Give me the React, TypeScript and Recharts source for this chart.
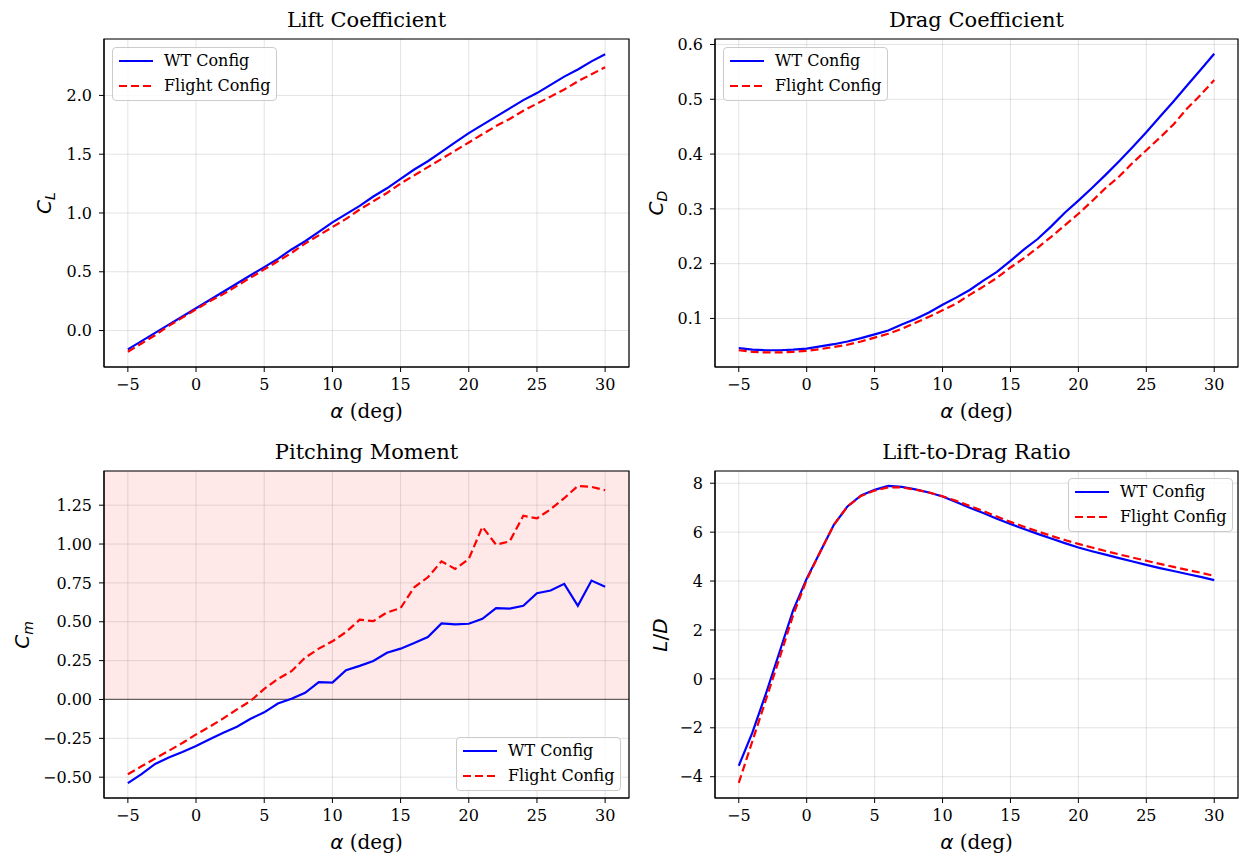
import React from 'react'
import { LineChart, Line, XAxis, YAxis, CartesianGrid, ReferenceLine, ReferenceArea } from 'recharts'

// angle of attack, deg
const alpha = [-5, -4, -3, -2, -1, 0, 1, 2, 3, 4, 5, 6, 7, 8, 9, 10, 11, 12, 13, 14, 15, 16, 17, 18, 19, 20, 21, 22, 23, 24, 25, 26, 27, 28, 29, 30]

const wtCL = [-0.16, -0.09, -0.02, 0.05, 0.12, 0.19, 0.26, 0.33, 0.4, 0.47, 0.54, 0.61, 0.69, 0.76, 0.84, 0.92, 0.99, 1.06, 1.14, 1.21, 1.29, 1.37, 1.44, 1.52, 1.6, 1.68, 1.75, 1.82, 1.89, 1.96, 2.02, 2.09, 2.16, 2.22, 2.29, 2.35]
const flCL = [-0.18, -0.11, -0.04, 0.04, 0.11, 0.18, 0.25, 0.31, 0.38, 0.45, 0.52, 0.59, 0.66, 0.74, 0.81, 0.88, 0.95, 1.03, 1.1, 1.17, 1.25, 1.32, 1.39, 1.46, 1.53, 1.6, 1.67, 1.74, 1.8, 1.87, 1.93, 1.99, 2.05, 2.12, 2.18, 2.24]

const wtCD = [0.046, 0.043, 0.042, 0.042, 0.043, 0.045, 0.049, 0.053, 0.058, 0.064, 0.071, 0.078, 0.089, 0.099, 0.111, 0.125, 0.138, 0.152, 0.169, 0.185, 0.205, 0.226, 0.245, 0.268, 0.293, 0.315, 0.338, 0.362, 0.387, 0.413, 0.44, 0.468, 0.496, 0.525, 0.554, 0.583]
const flCD = [0.042, 0.039, 0.038, 0.038, 0.039, 0.041, 0.044, 0.048, 0.052, 0.058, 0.065, 0.072, 0.081, 0.092, 0.103, 0.115, 0.127, 0.143, 0.158, 0.174, 0.193, 0.21, 0.229, 0.249, 0.27, 0.291, 0.314, 0.338, 0.359, 0.384, 0.407, 0.43, 0.454, 0.483, 0.508, 0.535]

const wtCm = [-0.538, -0.48, -0.415, -0.374, -0.338, -0.299, -0.256, -0.214, -0.175, -0.124, -0.083, -0.026, 0.004, 0.043, 0.111, 0.109, 0.188, 0.216, 0.248, 0.301, 0.327, 0.363, 0.402, 0.489, 0.483, 0.487, 0.519, 0.588, 0.585, 0.603, 0.684, 0.701, 0.744, 0.603, 0.765, 0.726]
const flCm = [-0.481, -0.43, -0.38, -0.33, -0.28, -0.225, -0.175, -0.122, -0.064, -0.009, 0.068, 0.132, 0.182, 0.269, 0.327, 0.374, 0.434, 0.513, 0.504, 0.56, 0.588, 0.722, 0.786, 0.889, 0.84, 0.904, 1.111, 0.996, 1.017, 1.182, 1.165, 1.224, 1.295, 1.374, 1.368, 1.346]

const wtLD = [-3.55, -2.2, -0.6, 1.1, 2.8, 4.1, 5.2, 6.3, 7.05, 7.5, 7.73, 7.89, 7.85, 7.75, 7.62, 7.46, 7.23, 7.0, 6.78, 6.55, 6.33, 6.13, 5.93, 5.74, 5.55, 5.37, 5.22, 5.08, 4.94, 4.8, 4.66, 4.53, 4.41, 4.29, 4.17, 4.04]
const flLD = [-4.25, -2.55, -0.85, 0.85, 2.6, 4.05, 5.2, 6.3, 7.05, 7.48, 7.7, 7.83, 7.83, 7.74, 7.62, 7.47, 7.28, 7.07, 6.86, 6.64, 6.42, 6.22, 6.03, 5.85, 5.68, 5.52, 5.37, 5.23, 5.09, 4.96, 4.83, 4.7, 4.58, 4.46, 4.34, 4.21]

const xTicks = [-5, 0, 5, 10, 15, 20, 25, 30]
const clTicks = [0, 0.5, 1, 1.5, 2]
const cdTicks = [0.1, 0.2, 0.3, 0.4, 0.5, 0.6]
const cmTicks = [-0.5, -0.25, 0, 0.25, 0.5, 0.75, 1, 1.25]
const ldTicks = [-4, -2, 0, 2, 4, 6, 8]

const X_DOMAIN: [number, number] = [-6.75, 31.75]
const SERIF = '"DejaVu Serif", serif'
const MATH = '"DejaVu Sans", sans-serif'

const fmt = (d: number) => (v: number) => v.toFixed(d).replace('-', '\u2212')

type PanelProps = {
  title: string
  x: number; y: number; w: number; h: number
  wt: number[]; fl: number[]
  yDomain: [number, number]
  yTicks: number[]
  yDigits: number
  ylabel: React.ReactNode
  ylabelX: number
  legend: [number, number]
  shade?: boolean
}

const Legend = ({ left, top }: { left: number; top: number }) => (
  <div style={{
    position: 'absolute', left, top, width: 165, height: 54, boxSizing: 'border-box',
    border: '1px solid #cccccc', borderRadius: 4, background: 'rgba(255,255,255,0.8)',
    fontFamily: SERIF, fontSize: 16, color: '#000'
  }}>
    <svg width={40} height={54} style={{ position: 'absolute', left: 0, top: 0 }}>
      <line x1={6} x2={40} y1={13} y2={13} stroke="#0000ff" strokeWidth={2.2} />
      <line x1={6} x2={40} y1={38} y2={38} stroke="#ff0000" strokeWidth={2.2} strokeDasharray="8 4" />
    </svg>
    <div style={{ position: 'absolute', left: 51, top: 2, lineHeight: '22px' }}>WT Config</div>
    <div style={{ position: 'absolute', left: 51, top: 27, lineHeight: '22px' }}>Flight Config</div>
  </div>
)

function Panel(p: PanelProps) {
  const ML = 80, MT = 10, MR = 10, MB = 45
  const data = alpha.map((a, i) => ({ alpha: a, wt: p.wt[i], fl: p.fl[i] }))
  const tickStyle = { fill: '#000', fontSize: 16, fontFamily: SERIF }
  return (
    <>
      <div style={{ position: 'absolute', left: p.x - ML, top: p.y - MT }}>
        <LineChart width={p.w + ML + MR} height={p.h + MT + MB} data={data} margin={{ top: MT, right: MR, left: 0, bottom: 0 }}>
          {p.shade && <ReferenceArea y1={0} y2={p.yDomain[1]} fill="#ff0000" fillOpacity={0.09} stroke="none" ifOverflow="hidden" />}
          <CartesianGrid stroke="#b0b0b0" strokeOpacity={0.35} />
          <XAxis dataKey="alpha" type="number" domain={X_DOMAIN} ticks={xTicks} tickFormatter={fmt(0)}
            tick={tickStyle} tickSize={5} tickMargin={7} height={MB} stroke="#000" allowDataOverflow />
          <YAxis type="number" domain={p.yDomain} ticks={p.yTicks} tickFormatter={fmt(p.yDigits)}
            tick={tickStyle} tickSize={5} tickMargin={7} width={ML} stroke="#000" allowDataOverflow />
          {p.shade && <ReferenceLine y={0} stroke="#000" strokeOpacity={0.55} strokeWidth={1.2} />}
          <Line type="linear" dataKey="wt" stroke="#0000ff" strokeWidth={2.2} dot={false} isAnimationActive={false} />
          <Line type="linear" dataKey="fl" stroke="#ff0000" strokeWidth={2.2} strokeDasharray="8 4" dot={false} isAnimationActive={false} />
          {/* axes frame */}
          <ReferenceArea x1={X_DOMAIN[0]} x2={X_DOMAIN[1]} y1={p.yDomain[0]} y2={p.yDomain[1]}
            fill="none" stroke="#000" strokeWidth={1.2} ifOverflow="visible" />
        </LineChart>
      </div>
      <div style={{ position: 'absolute', left: p.x, width: p.w, top: p.y - 31, textAlign: 'center', fontFamily: SERIF, fontSize: 21, lineHeight: '24px', color: '#000' }}>
        {p.title}
      </div>
      <div style={{ position: 'absolute', left: p.x, width: p.w, top: p.y + p.h + 31, textAlign: 'center', fontSize: 20, lineHeight: '26px', color: '#000', whiteSpace: 'nowrap' }}>
        <span style={{ fontFamily: MATH, fontStyle: 'italic' }}>α</span>
        <span style={{ fontFamily: SERIF }}> (deg)</span>
      </div>
      <div style={{
        position: 'absolute', left: p.ylabelX, top: p.y + p.h / 2, transform: 'translate(-50%, -50%) rotate(-90deg)',
        fontFamily: MATH, fontSize: 20, lineHeight: '26px', color: '#000', whiteSpace: 'nowrap'
      }}>
        {p.ylabel}
      </div>
      <Legend left={p.legend[0]} top={p.legend[1]} />
    </>
  )
}

const sub = (s: string) => <i style={{ fontSize: '0.7em', position: 'relative', top: '0.3em' }}>{s}</i>

export default function App() {
  return (
    <div style={{ position: 'absolute', left: 0, top: 0, width: 1239, height: 859, background: '#fff', overflow: 'hidden' }}>
      <Panel title="Lift Coefficient" x={104} y={39} w={525} h={328} wt={wtCL} fl={flCL}
        yDomain={[-0.31, 2.48]} yTicks={clTicks} yDigits={1}
        ylabel={<span><i>C</i>{sub('L')}</span>} ylabelX={45} legend={[112, 47]} />
      <Panel title="Drag Coefficient" x={715} y={39} w={523} h={328} wt={wtCD} fl={flCD}
        yDomain={[0.0114, 0.61]} yTicks={cdTicks} yDigits={1}
        ylabel={<span><i>C</i>{sub('D')}</span>} ylabelX={657} legend={[723, 47]} />
      <Panel title="Pitching Moment" x={104} y={471} w={525} h={327} wt={wtCm} fl={flCm}
        yDomain={[-0.634, 1.47]} yTicks={cmTicks} yDigits={2}
        ylabel={<span><i>C</i>{sub('m')}</span>} ylabelX={23} legend={[456, 737]} shade />
      <Panel title="Lift-to-Drag Ratio" x={715} y={471} w={523} h={327} wt={wtLD} fl={flLD}
        yDomain={[-4.87, 8.5]} yTicks={ldTicks} yDigits={0}
        ylabel={<span><i>L</i>/<i>D</i></span>} ylabelX={660} legend={[1068, 478]} />
    </div>
  )
}
